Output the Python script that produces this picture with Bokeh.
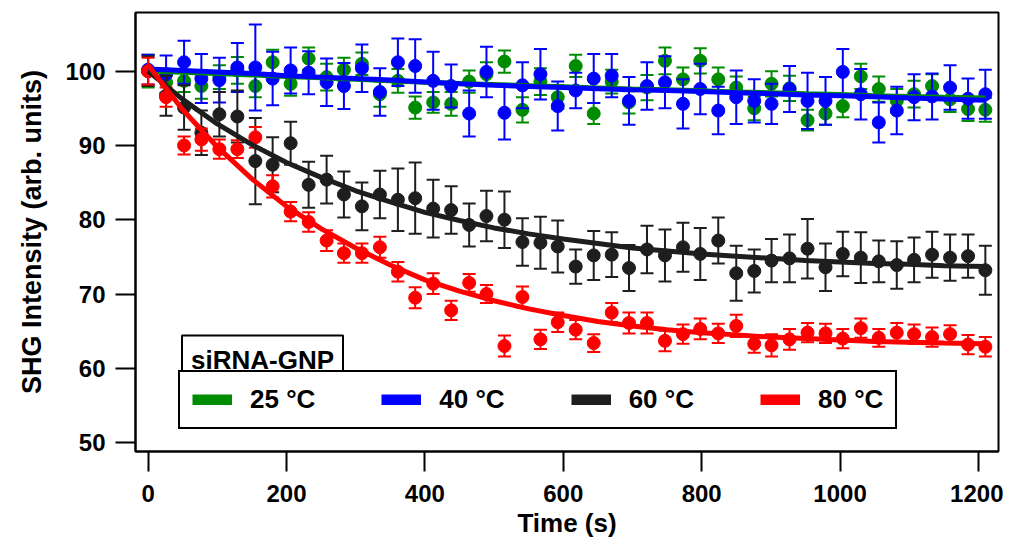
from bokeh.plotting import figure
from bokeh.models import Range1d, FixedTicker, Legend, LegendItem, Label
from bokeh.embed import file_html
from bokeh.resources import INLINE

# ---------------- data ----------------
time_s = [0, 26, 52, 77, 103, 129, 155, 180, 206, 232, 258, 283, 309, 335, 361, 386,
          412, 438, 464, 489, 515, 541, 567, 592, 618, 644, 670, 695, 721, 747, 773, 798,
          824, 850, 876, 901, 927, 953, 979, 1004, 1030, 1056, 1082, 1107, 1133, 1159, 1185, 1210]

g25 = [100.0, 98.5, 98.7, 98.0, 99.2, 100.1, 98.0, 101.2, 98.3, 101.7, 99.2, 100.2, 101.0, 96.9, 98.7, 95.1,
       95.8, 95.6, 98.6, 99.6, 101.3, 94.8, 98.6, 96.5, 100.7, 94.3, 98.6, 95.8, 97.8, 101.4, 98.9, 101.4,
       98.9, 97.8, 95.0, 98.3, 97.7, 93.4, 94.3, 95.3, 99.3, 97.6, 96.0, 96.9, 98.0, 96.2, 94.9, 94.8]
g25_err = [2.2, 1.5, 1.5, 1.7, 1.6, 1.8, 1.5, 1.7, 1.6, 1.5, 1.8, 1.6, 1.5, 1.7, 1.6, 1.5,
           1.4, 1.6, 1.5, 1.6, 1.5, 1.7, 1.8, 1.6, 1.5, 1.4, 1.6, 1.5, 1.7, 1.8, 1.6, 1.7,
           1.6, 1.5, 1.6, 1.7, 1.7, 1.4, 1.5, 1.5, 1.7, 1.7, 1.6, 1.8, 1.6, 1.7, 1.6, 1.6]

b40 = [100.2, 99.6, 101.2, 99.0, 98.8, 100.5, 100.5, 99.0, 100.1, 99.8, 98.5, 98.0, 100.4, 97.2, 101.2, 100.7,
       98.7, 98.0, 94.3, 99.9, 94.4, 98.1, 99.6, 95.3, 97.4, 99.0, 99.4, 96.0, 98.0, 98.5, 95.6, 97.6,
       94.7, 96.5, 96.0, 95.6, 97.6, 96.0, 96.0, 99.9, 96.9, 93.1, 94.7, 96.5, 96.6, 97.8, 96.3, 96.9]
b40_err = [2.0, 2.5, 2.9, 3.3, 3.0, 3.3, 5.8, 3.6, 3.1, 2.9, 3.2, 3.1, 3.2, 3.2, 3.2, 3.6,
           3.9, 2.9, 3.1, 3.4, 3.6, 3.1, 3.4, 3.3, 2.4, 3.3, 2.9, 3.2, 3.2, 3.5, 3.3, 3.4,
           3.2, 3.6, 2.9, 2.7, 3.1, 3.8, 3.2, 3.1, 3.4, 2.7, 3.2, 3.1, 3.1, 3.0, 2.7, 3.3]

k60 = [100.0, 96.7, 95.1, 91.7, 94.2, 93.9, 87.9, 87.4, 90.3, 84.7, 85.4, 83.4, 81.8, 83.4, 82.7, 82.9,
       81.5, 81.3, 79.3, 80.5, 80.0, 77.0, 76.9, 76.4, 73.7, 75.2, 75.3, 73.5, 76.0, 75.2, 76.3, 75.4,
       77.2, 72.8, 73.1, 74.5, 74.8, 76.1, 73.6, 75.4, 74.9, 74.4, 73.9, 74.6, 75.3, 74.9, 75.1, 73.2]
k60_err = [2.0, 2.7, 3.0, 3.0, 3.0, 3.5, 5.8, 3.7, 2.9, 3.1, 3.2, 3.1, 3.2, 3.2, 4.2, 4.8,
           3.9, 3.2, 2.9, 3.4, 3.8, 3.2, 3.5, 3.5, 2.3, 3.3, 3.0, 3.1, 3.2, 3.5, 3.3, 3.5,
           3.1, 3.7, 2.9, 2.9, 3.2, 4.0, 3.2, 3.0, 3.4, 2.8, 3.2, 3.0, 3.1, 3.1, 2.9, 3.3]

r80 = [100.0, 96.5, 90.0, 90.8, 89.5, 89.5, 91.1, 84.5, 81.1, 79.7, 77.2, 75.5, 75.5, 76.3, 73.0, 69.5,
       71.4, 67.8, 71.5, 70.0, 63.0, 69.6, 63.9, 66.2, 65.2, 63.4, 67.5, 66.1, 66.1, 63.7, 64.6, 65.3,
       64.7, 65.7, 63.3, 63.1, 63.9, 64.8, 64.7, 64.0, 65.4, 64.1, 64.8, 64.6, 64.2, 64.6, 63.2, 62.9]
r80_err = [1.8, 1.3, 1.2, 1.5, 1.3, 1.2, 1.4, 1.5, 1.3, 1.3, 1.4, 1.3, 1.3, 1.4, 1.3, 1.4,
           1.4, 1.3, 1.2, 1.2, 1.4, 1.4, 1.3, 1.3, 1.3, 1.2, 1.3, 1.4, 1.4, 1.4, 1.3, 1.4,
           1.3, 1.5, 1.2, 1.5, 1.4, 1.3, 1.3, 1.3, 1.3, 1.2, 1.3, 1.3, 1.3, 1.2, 1.3, 1.3]

# fitted curves
fit_t = [0, 50, 100, 150, 200, 250, 300, 350, 400, 450, 500, 550, 600, 650, 700, 750, 800,
         850, 900, 950, 1000, 1050, 1100, 1150, 1210]
fit_g25 = [100.0, 99.85, 99.7, 99.5, 99.3, 99.1, 98.9, 98.7, 98.5, 98.35, 98.2, 98.05, 97.9, 97.75,
           97.6, 97.5, 97.35, 97.2, 97.1, 96.95, 96.85, 96.7, 96.6, 96.5, 96.4]
fit_b40 = [100.3, 100.1, 99.9, 99.7, 99.4, 99.2, 99.0, 98.8, 98.55, 98.3, 98.1, 97.95, 97.8, 97.65,
           97.5, 97.4, 97.25, 97.1, 96.95, 96.8, 96.7, 96.55, 96.4, 96.25, 96.1]
fit_k60 = [100.0, 96.2, 92.9, 90.1, 87.7, 85.7, 83.9, 82.4, 81.0, 79.9, 78.9, 78.1, 77.4, 76.8,
           76.2, 75.8, 75.4, 75.1, 74.8, 74.5, 74.3, 74.1, 74.0, 73.8, 73.7]
fit_r80 = [100.8, 94.8, 89.8, 85.5, 81.8, 78.8, 76.2, 73.9, 71.9, 70.4, 69.1, 68.0, 67.1, 66.3,
           65.7, 65.2, 64.8, 64.5, 64.2, 64.0, 63.8, 63.6, 63.5, 63.4, 63.3]

labels = ["25 \u00b0C", "40 \u00b0C", "60 \u00b0C", "80 \u00b0C"]
colors = ["#008c00", "#0000ff", "#1e1e1e", "#ff0000"]
title_text = "siRNA-GNP"
x_title = "Time (s)"
y_title = "SHG Intensity (arb. units)"
x_ticks = [0, 200, 400, 600, 800, 1000, 1200]
y_ticks = [50, 60, 70, 80, 90, 100]

FONT = "Liberation Sans"
NAN = float("nan")

p = figure(width=1003, height=540, output_backend="svg", toolbar_location=None,
           x_range=Range1d(-18.2, 1229), y_range=Range1d(48.8, 107.9),
           min_border_left=135, min_border_right=5, min_border_top=12, min_border_bottom=89)
p.xgrid.visible = False
p.ygrid.visible = False
p.outline_line_color = "black"
p.outline_line_width = 2
p.background_fill_color = "white"

for ax in (p.xaxis[0], p.yaxis[0]):
    ax.axis_line_width = 2
    ax.axis_line_color = "black"
    ax.major_tick_in = 0
    ax.major_tick_out = 20
    ax.major_tick_line_width = 2
    ax.minor_tick_line_color = None
    ax.major_label_text_font = FONT
    ax.major_label_text_font_style = "bold"
    ax.major_label_text_font_size = "24px"
    ax.major_label_text_color = "black"
    ax.axis_label_text_font = FONT
    ax.axis_label_text_font_style = "bold"
    ax.axis_label_text_color = "black"

p.xaxis.ticker = FixedTicker(ticks=x_ticks)
p.yaxis.ticker = FixedTicker(ticks=y_ticks)
p.xaxis.axis_label = x_title
p.yaxis.axis_label = y_title
p.xaxis.axis_label_text_font_size = "26px"
p.yaxis.axis_label_text_font_size = "27px"
p.xaxis.major_label_standoff = 13
p.xaxis.axis_label_standoff = 3
p.yaxis.major_label_standoff = 10
p.yaxis.axis_label_standoff = 15

series = [(g25, g25_err), (b40, b40_err), (k60, k60_err), (r80, r80_err)]
for (vals, errs), c in zip(series, colors):
    lo = [v - e for v, e in zip(vals, errs)]
    hi = [v + e for v, e in zip(vals, errs)]
    p.segment(x0=time_s, y0=lo, x1=time_s, y1=hi, line_color=c, line_width=2)
    p.scatter(x=time_s, y=lo, marker="dash", size=13, line_color=c, line_width=2)
    p.scatter(x=time_s, y=hi, marker="dash", size=13, line_color=c, line_width=2)
    p.scatter(x=time_s, y=vals, marker="circle", size=13, fill_color=c, line_color=c)

for fit, c in zip([fit_g25, fit_b40, fit_k60, fit_r80], colors):
    p.line(x=fit_t, y=fit, line_color=c, line_width=5)

# legend swatches (renderers with no visible data)
items = []
for lab, c in zip(labels, colors):
    r = p.line(x=[NAN, NAN], y=[NAN, NAN], line_color=c, line_width=11)
    items.append(LegendItem(label=lab, renderers=[r]))

legend = Legend(items=items, orientation="horizontal", location=(43, 22),
                glyph_width=40, glyph_height=11, label_standoff=18, spacing=66,
                padding=12, margin=0, border_line_color="black", border_line_width=2,
                border_line_alpha=1, background_fill_color="white", background_fill_alpha=1,
                label_text_font=FONT, label_text_font_style="bold", label_text_font_size="26px",
                label_text_color="black")
p.add_layout(legend)

title = Label(x=127, y=92, x_units="screen", y_units="screen", text=title_text,
              text_align="center", text_baseline="middle", text_font=FONT,
              text_font_style="bold", text_font_size="26px", text_color="black",
              border_line_color="black", border_line_width=2,
              background_fill_color="white", background_fill_alpha=1, padding=9)
p.add_layout(title)

open("out.html", "w").write(file_html(p, INLINE))
